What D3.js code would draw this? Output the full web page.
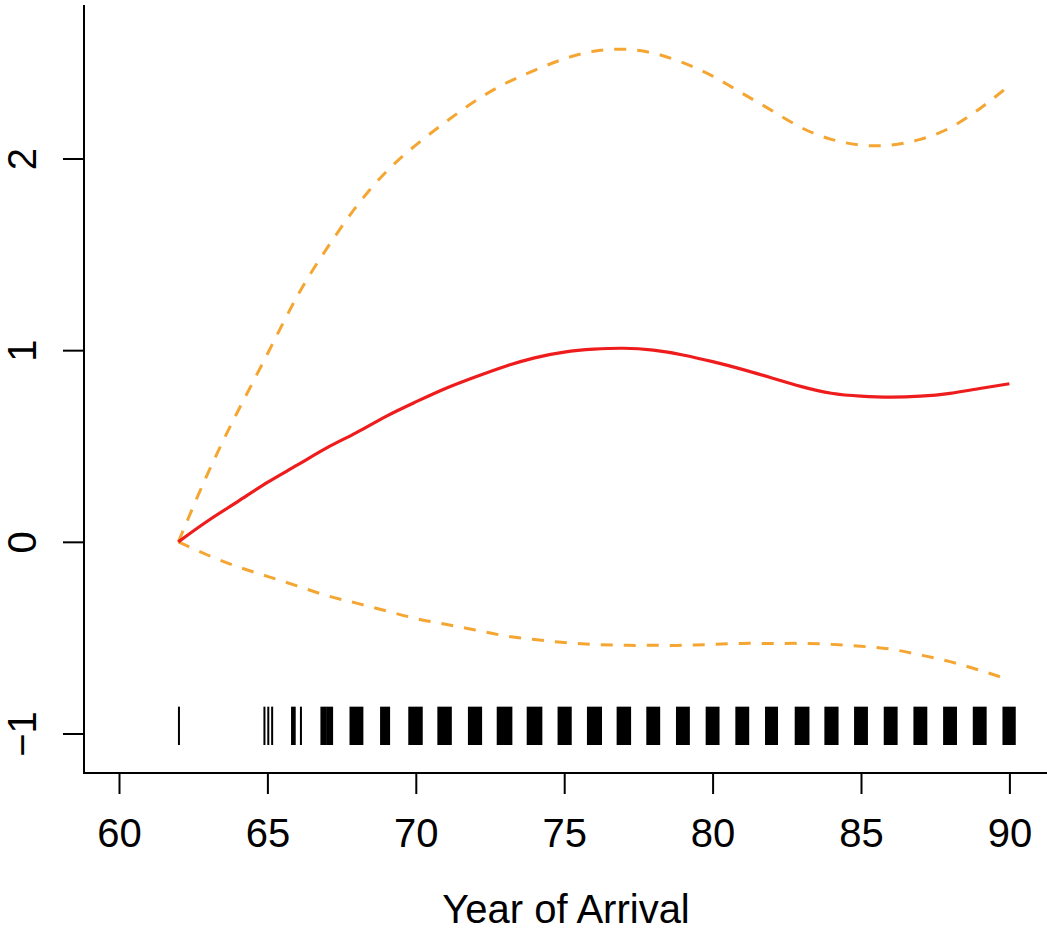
<!DOCTYPE html>
<html>
<head>
<meta charset="utf-8">
<script src="https://cdn.jsdelivr.net/npm/d3@7/dist/d3.min.js"></script>
<style>
  html, body { margin: 0; padding: 0; background: #fff; }
  svg { display: block; font-family: "Liberation Sans", Arial, Helvetica, sans-serif; }
</style>
</head>
<body>
<svg id="chart" width="1047" height="931"></svg>
<script>
// Smooth term for year of arrival with pointwise confidence band
const years = [62, 63, 64, 65, 66, 67, 68, 69, 70, 71, 72, 73, 74, 75, 76,
               77, 78, 79, 80, 81, 82, 83, 84, 85, 86, 87, 88, 89, 90];
const fit = [0, 0.11, 0.21, 0.31, 0.40, 0.49, 0.57, 0.655, 0.73, 0.80, 0.86,
             0.915, 0.96, 0.99, 1.005, 1.01, 1.0, 0.975, 0.94, 0.90, 0.855,
             0.81, 0.775, 0.76, 0.755, 0.76, 0.775, 0.80, 0.825];
const upper = [0, 0.36, 0.68, 0.98, 1.28, 1.53, 1.75, 1.93, 2.07, 2.19, 2.30,
               2.39, 2.46, 2.52, 2.56, 2.57, 2.55, 2.50, 2.43, 2.34, 2.25,
               2.16, 2.10, 2.07, 2.07, 2.10, 2.16, 2.26, 2.38];
const lower = [0, -0.07, -0.13, -0.18, -0.23, -0.28, -0.32, -0.36, -0.40, -0.43,
               -0.46, -0.49, -0.51, -0.525, -0.535, -0.54, -0.54, -0.54, -0.535,
               -0.53, -0.53, -0.53, -0.535, -0.545, -0.56, -0.59, -0.625, -0.67, -0.72];

// Rug of (jittered) observed arrival years: each entry spans [low, high]
const rugLow  = [62.02, 64.90, 65.03, 65.16, 65.83, 66.13, 66.82, 67.03, 67.80, 68.83,
                 69.78, 70.76, 71.79, 72.76, 73.77, 74.81, 75.80, 76.80, 77.80, 78.80,
                 79.80, 80.80, 81.80, 82.80, 83.80, 84.80, 85.80, 86.80, 87.80, 88.80, 89.80];
const rugHigh = [62.02, 64.90, 65.03, 65.16, 65.92, 66.13, 66.97, 67.18, 68.20, 69.10,
                 70.20, 71.18, 72.20, 73.22, 74.23, 75.22, 76.24, 77.22, 78.20, 79.20,
                 80.20, 81.20, 82.17, 83.23, 84.21, 85.20, 86.20, 87.20, 88.20, 89.20, 90.18];

const xTicks = [60, 65, 70, 75, 80, 85, 90];
const yTicks = [-1, 0, 1, 2];
const xLabel = "Year of Arrival";

const svg = d3.select("#chart");

const x = d3.scaleLinear().domain([60, 90]).range([119, 1009.4]);
const y = d3.scaleLinear().domain([-1, 2]).range([733.5, 158.5]);

const axisX = 84, axisY = 773;

// L-shaped frame
svg.append("line").attr("x1", axisX).attr("x2", axisX).attr("y1", 5).attr("y2", axisY + 1)
  .attr("stroke", "#000").attr("stroke-width", 2);
svg.append("line").attr("x1", axisX - 1).attr("x2", 1047).attr("y1", axisY).attr("y2", axisY)
  .attr("stroke", "#000").attr("stroke-width", 2);

// Bottom axis
const gx = svg.append("g").attr("transform", `translate(0,${axisY})`)
  .call(d3.axisBottom(x).tickValues(xTicks).tickSize(21).tickFormat(d3.format("d")));
gx.select(".domain").remove();
gx.selectAll(".tick line").attr("stroke", "#000").attr("stroke-width", 2);
gx.selectAll(".tick text").attr("y", 73.5).attr("dy", null)
  .attr("font-size", 40).attr("fill", "#000")
  .attr("font-family", "'Liberation Sans', Arial, sans-serif");

// Left axis with rotated labels
const gy = svg.append("g").attr("transform", `translate(${axisX},0)`)
  .call(d3.axisLeft(y).tickValues(yTicks).tickSize(21).tickFormat(d3.format("d")));
gy.select(".domain").remove();
gy.selectAll(".tick line").attr("stroke", "#000").attr("stroke-width", 2);
gy.selectAll(".tick text")
  .attr("x", null).attr("dy", null)
  .attr("transform", "translate(-48,0) rotate(-90)")
  .attr("text-anchor", "middle")
  .attr("font-size", 40).attr("fill", "#000")
  .attr("font-family", "'Liberation Sans', Arial, sans-serif");

// Axis title
svg.append("text")
  .attr("x", 566).attr("y", 923)
  .attr("text-anchor", "middle")
  .attr("font-size", 40)
  .attr("fill", "#000")
  .text(xLabel);

// Rug marks
svg.append("g").selectAll("rect")
  .data(rugLow.map((lo, i) => [lo, rugHigh[i]]))
  .join("rect")
  .attr("x", d => x(d[0]) - 1)
  .attr("width", d => x(d[1]) - x(d[0]) + 2)
  .attr("y", y(-0.86))
  .attr("height", y(-1.06) - y(-0.86))
  .attr("fill", "#000");

// Curves
const pts = arr => years.map((yr, i) => [yr, arr[i]]);
const line = d3.line().x(d => x(d[0])).y(d => y(d[1])).curve(d3.curveNatural);

svg.append("path").datum(pts(upper)).attr("d", line)
  .attr("fill", "none").attr("stroke", "#f5a632").attr("stroke-width", 3)
  .attr("stroke-dasharray", "12,11");
svg.append("path").datum(pts(lower)).attr("d", line)
  .attr("fill", "none").attr("stroke", "#f5a632").attr("stroke-width", 3)
  .attr("stroke-dasharray", "12,11");
svg.append("path").datum(pts(fit)).attr("d", line)
  .attr("fill", "none").attr("stroke", "#ee1c1c").attr("stroke-width", 3.2);
</script>
</body>
</html>
